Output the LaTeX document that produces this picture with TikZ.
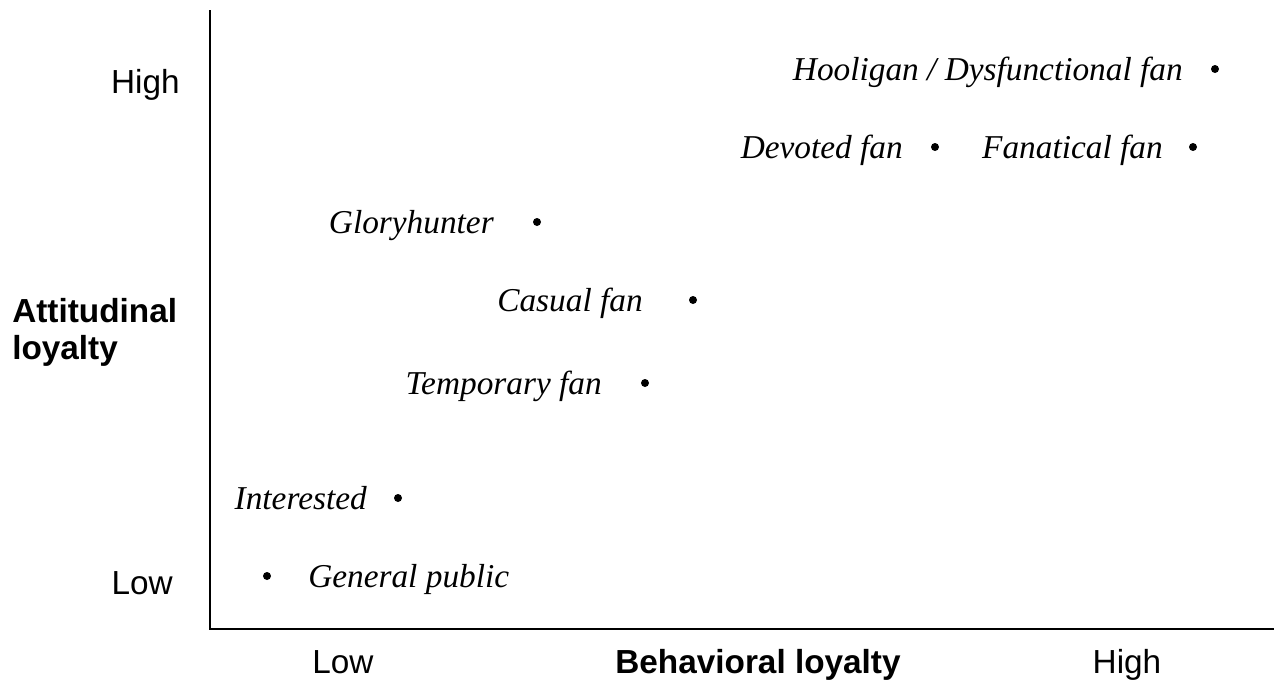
\documentclass[tikz,border=0pt]{standalone}
\usepackage{fontspec}
\setmainfont{Liberation Serif}
\setsansfont{Liberation Sans}
\usetikzlibrary{calc}

\tikzset{
	fandot/.style={circle, fill=black, inner sep=0pt, minimum size=6pt},
	fanlabel/.style={font=\fontsize{25}{30}\selectfont\itshape, inner sep=0pt},
	axislabel/.style={font=\fontsize{25}{30}\selectfont\sffamily, inner sep=0pt},
	axistitle/.style={font=\fontsize{25}{30}\selectfont\sffamily\bfseries, inner sep=0pt, align=left}
}

\begin{document}
\begin{tikzpicture}[x=0.75pt, y=-0.75pt]
			\useasboundingbox (0,0) rectangle (1274,682);
			% axes
			\coordinate (top) at (210,10);
			\coordinate (origin) at (210,629);
			\coordinate (right) at (1274,629);
			\draw[line width=1.7pt] (top) -- (origin) -- (right);
			
			% axis labels
			\node[axislabel, anchor=base east] (yhigh) at (180,93) {High};
			\node[axislabel, anchor=base east] (ylow) at (173,594) {Low};
			\node[axistitle, anchor=north west] (ytitle) at (12,298) {Attitudinal\\[-2pt]loyalty};
			\node[axislabel, anchor=base] (xlow) at (343,673) {Low};
			\node[axistitle, anchor=base] (xtitle) at (758,673) {Behavioral loyalty};
			\node[axislabel, anchor=base] (xhigh) at (1127,673) {High};
			
			% fan types
			\node[fandot] (hooligan) at (1215,69) {};
			\node[fandot] (devoted) at (935,147) {};
			\node[fandot] (fanatical) at (1193,147) {};
			\node[fandot] (glory) at (537,222) {};
			\node[fandot] (casual) at (693,300) {};
			\node[fandot] (temporary) at (645,383) {};
			\node[fandot] (interested) at (398,498) {};
			\node[fandot] (public) at (267,576) {};
			
			\node[fanlabel, anchor=base east] (hooligantext) at ($(hooligan)+(-32,11.5)$) {Hooligan / Dysfunctional fan};
			\node[fanlabel, anchor=base east] (devotedtext) at ($(devoted)+(-32,11.5)$) {Devoted fan};
			\node[fanlabel, anchor=base east] (fanaticaltext) at ($(fanatical)+(-30,11.5)$) {Fanatical fan};
			\node[fanlabel, anchor=base east] (glorytext) at ($(glory)+(-43,11.5)$) {Gloryhunter};
			\node[fanlabel, anchor=base east] (casualtext) at ($(casual)+(-50,11.5)$) {Casual fan};
			\node[fanlabel, anchor=base east] (temporarytext) at ($(temporary)+(-43,11.5)$) {Temporary fan};
			\node[fanlabel, anchor=base east] (interestedtext) at ($(interested)+(-31,11.5)$) {Interested};
			\node[fanlabel, anchor=base west] (publictext) at ($(public)+(41,11.5)$) {General public};
		\end{tikzpicture}
\end{document}
